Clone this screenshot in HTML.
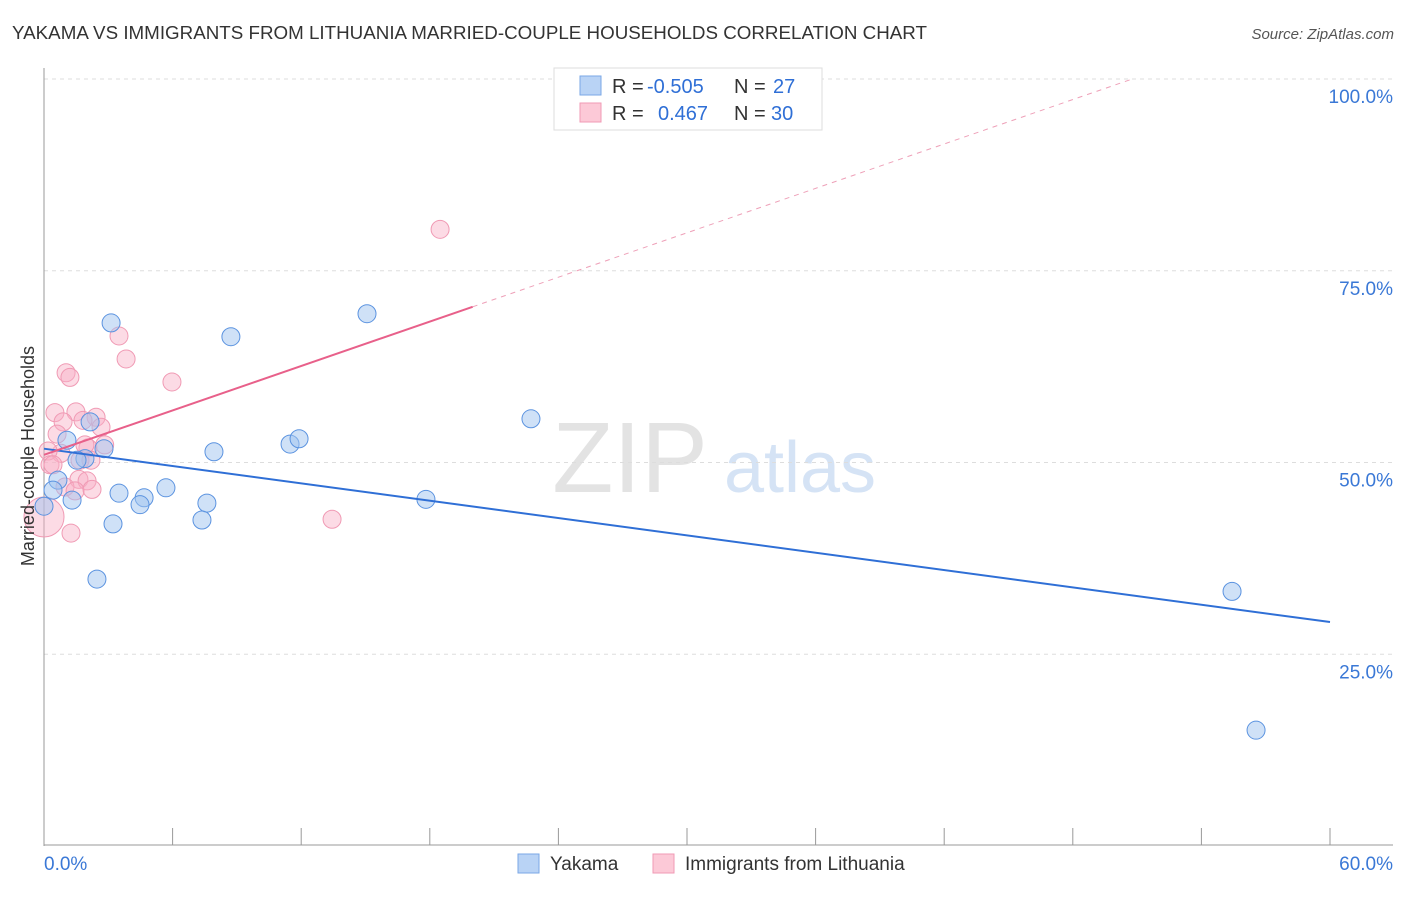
<!DOCTYPE html>
<html><head><meta charset="utf-8"><style>
body{margin:0;background:#fff;font-family:"Liberation Sans",sans-serif}
svg text{font-family:"Liberation Sans",sans-serif}
</style></head><body>
<svg id="chart" width="1406" height="892" xmlns="http://www.w3.org/2000/svg">
<text x="12" y="39" font-size="18" fill="#333" textLength="915" lengthAdjust="spacingAndGlyphs">YAKAMA VS IMMIGRANTS FROM LITHUANIA MARRIED-COUPLE HOUSEHOLDS CORRELATION CHART</text>
<text x="1394" y="39" font-size="15" fill="#555" text-anchor="end" font-style="italic">Source: ZipAtlas.com</text>
<text x="630" y="492" font-size="100" fill="#e3e3e3" font-family="Liberation Serif" text-anchor="middle">ZIP</text>
<text x="800" y="492" font-size="72" fill="#d5e3f5" text-anchor="middle">atlas</text>
<g id="grid"></g>
<g id="marks"></g>
<text x="34" y="456" font-size="18" fill="#333" text-anchor="middle" transform="rotate(-90 34 456)">Married-couple Households</text>
<g>
<rect x="554" y="68" width="268" height="62" fill="#fff" stroke="#ddd"/>
<rect x="580" y="76" width="21" height="19" fill="#b9d3f5" stroke="#7aa7e6"/>
<rect x="580" y="103" width="21" height="19" fill="#fcc9d7" stroke="#f09ab4"/>
<text x="612" y="93" font-size="20" fill="#333">R = <tspan fill="#2f6fd6" x="647">-0.505</tspan><tspan x="734">N = </tspan><tspan fill="#2f6fd6" x="773">27</tspan></text>
<text x="612" y="120" font-size="20" fill="#333">R = <tspan fill="#2f6fd6" x="658">0.467</tspan><tspan x="734">N = </tspan><tspan fill="#2f6fd6" x="771">30</tspan></text>
</g>
<g>
<rect x="518" y="854" width="21" height="19" fill="#b9d3f5" stroke="#7aa7e6"/>
<text x="550" y="870" font-size="19" fill="#333">Yakama</text>
<rect x="653" y="854" width="21" height="19" fill="#fcc9d7" stroke="#f09ab4"/>
<text x="685" y="870" font-size="19" fill="#333">Immigrants from Lithuania</text>
</g>
</svg>
<script>
const yTicks=[25,50,75,100];
const yTickLabels=["25.0%","50.0%","75.0%","100.0%"];
const xTicks=[0,6,12,18,24,30,36,42,48,54,60];
const xLabelMin="0.0%", xLabelMax="60.0%";
const blueX=[3.13,8.72,15.07,22.72,1.07,2.15,2.80,1.91,1.54,7.93,11.48,11.90,0.65,0.42,1.31,0,3.50,4.67,4.48,5.69,7.60,7.37,3.22,17.82,2.47,55.43,56.55];
const blueY=[68.2,66.4,69.4,55.7,52.9,55.3,51.8,50.5,50.3,51.4,52.4,53.1,47.7,46.4,45.1,44.3,46.0,45.4,44.5,46.7,44.7,42.5,42.0,45.2,34.8,33.2,15.1];
const pinkX=[18.48,3.50,3.83,5.97,1.03,1.21,0.51,1.49,0.89,2.43,2.66,1.82,0.61,0.79,0.19,0.28,2.05,1.68,2.19,1.63,2.01,0.98,1.45,2.24,13.44,1.26,0,0.42,1.91,2.83];
const pinkY=[80.4,66.5,63.5,60.5,61.7,61.1,56.5,56.6,55.3,55.9,54.6,55.5,53.7,51.2,51.5,49.7,51.9,50.3,50.3,47.8,47.6,46.8,46.3,46.5,42.6,40.8,42.9,49.7,52.3,52.3];
const pinkR=[9,9,9,9,9,9,9,9,9,9,9,9,9,9,9,9,9,9,9,9,9,9,9,9,9,9,20,9,9,9];
const blueLine=[51.8,29.2];
const pinkLine=[51.0,0.965];
const NS="http://www.w3.org/2000/svg";
const X=v=>44+v/60*1286;
const Y=v=>846-v*7.67;
function mk(tag,attrs,parent){const e=document.createElementNS(NS,tag);for(const k in attrs)e.setAttribute(k,attrs[k]);parent.appendChild(e);return e;}
const grid=document.getElementById('grid'),marks=document.getElementById('marks');
yTicks.forEach((t,i)=>{
 const l=mk('line',{x1:44,x2:1393,y1:Y(t),y2:Y(t),stroke:'#ddd','stroke-dasharray':'4,4'},grid);
 
 
 const tx=mk('text',{x:1393,y:Y(t)+24,'font-size':19,fill:'#3a78d6','text-anchor':'end'},grid);
 tx.textContent=yTickLabels[i];
 
 
});
const ax=mk('line',{x1:44,x2:44,y1:68,y2:846,stroke:'#999'},grid);


const bx=mk('line',{x1:44,x2:1393,y1:845,y2:845,stroke:'#999'},grid);


xTicks.forEach(t=>{
 const l=mk('line',{x1:X(t),x2:X(t),y1:828,y2:845,stroke:'#999'},grid);
 
 
});
const xl0=mk('text',{x:44,y:870,'font-size':19,fill:'#3a78d6'},grid);xl0.textContent=xLabelMin;


const xl1=mk('text',{x:1393,y:870,'font-size':19,fill:'#3a78d6','text-anchor':'end'},grid);xl1.textContent=xLabelMax;


pinkX.forEach((x,i)=>{
 const c=mk('circle',{cx:X(x),cy:Y(pinkY[i]),r:pinkR[i],fill:'rgba(248,175,198,0.45)',stroke:'#f09ab4','stroke-width':1},marks);
 
 
});
blueX.forEach((x,i)=>{
 const c=mk('circle',{cx:X(x),cy:Y(blueY[i]),r:9,fill:'rgba(160,196,240,0.5)',stroke:'#5b93e0','stroke-width':1},marks);
 
 
});
const bl=mk('line',{x1:X(0),y1:Y(blueLine[0]),x2:X(60),y2:Y(blueLine[1]),stroke:'#2f6fd6','stroke-width':2},marks);


const pEnd=20, pTop=(100-pinkLine[0])/pinkLine[1];
const pl=mk('line',{x1:X(0),y1:Y(pinkLine[0]),x2:X(pEnd),y2:Y(pinkLine[0]+pinkLine[1]*pEnd),stroke:'#e8608a','stroke-width':2},marks);


const pd=mk('line',{x1:X(pEnd),y1:Y(pinkLine[0]+pinkLine[1]*pEnd),x2:X(pTop),y2:Y(100),stroke:'#eea0b8','stroke-width':1,'stroke-dasharray':'5,5'},marks);


</script>
</body></html>
